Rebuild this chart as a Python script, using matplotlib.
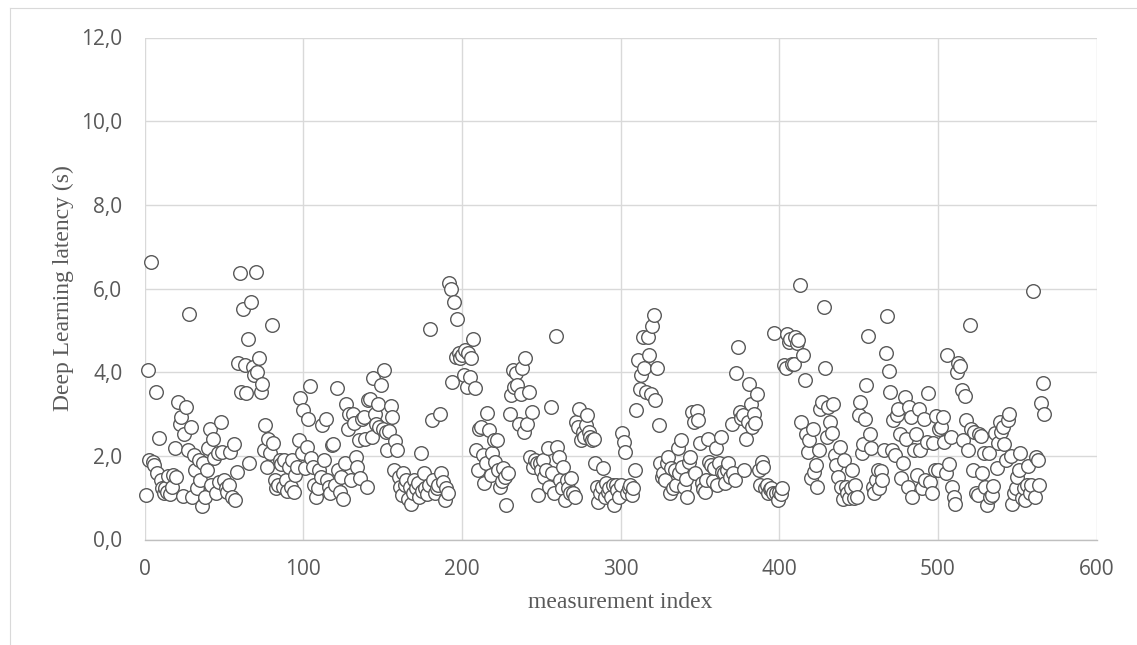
import matplotlib
matplotlib.use('Agg')
import matplotlib.pyplot as plt
from matplotlib.ticker import FuncFormatter
from matplotlib.lines import Line2D
import numpy as np

latency = [
    1.06, 4.05, 1.90, 6.64, 1.86, 1.78, 3.53, 1.60, 2.43, 1.43,
    1.22, 1.10, 1.22, 1.14, 1.51, 1.08, 1.26, 1.55, 2.18, 1.50,
    3.29, 2.77, 2.93, 1.05, 2.53, 3.17, 2.14, 5.40, 2.68, 1.02,
    2.02, 1.66, 1.22, 1.90, 1.42, 0.80, 1.83, 1.02, 1.66, 2.18,
    2.65, 1.30, 2.41, 1.94, 1.10, 2.06, 1.38, 2.81, 2.10, 1.42,
    1.22, 1.14, 1.30, 2.08, 1.02, 2.29, 0.94, 1.62, 4.21, 6.36,
    3.53, 5.52, 4.17, 3.51, 4.80, 1.83, 5.68, 4.13, 3.93, 6.40,
    4.00, 4.33, 3.53, 3.71, 2.14, 2.73, 1.74, 2.41, 2.06, 5.12,
    2.31, 1.42, 1.22, 1.30, 1.90, 1.80, 1.26, 1.90, 1.42, 1.15,
    1.74, 1.26, 1.90, 1.14, 1.55, 1.74, 2.37, 3.38, 2.06, 3.09,
    1.70, 2.22, 2.88, 3.67, 1.94, 1.74, 1.30, 1.02, 1.22, 1.66,
    1.50, 2.73, 1.90, 2.88, 1.42, 1.26, 1.10, 2.25, 2.29, 1.30,
    3.63, 1.66, 1.14, 1.50, 0.98, 1.82, 3.25, 2.65, 3.01, 1.42,
    3.01, 2.79, 1.98, 1.74, 2.37, 1.46, 2.89, 2.93, 2.41, 1.26,
    3.33, 3.35, 2.45, 3.85, 3.01, 2.77, 3.25, 2.69, 3.69, 2.65,
    4.05, 2.57, 2.14, 2.60, 3.20, 2.93, 1.67, 2.35, 2.15, 1.50,
    1.26, 1.06, 1.58, 1.30, 1.42, 0.98, 1.25, 0.86, 1.10, 1.42,
    1.22, 1.35, 1.02, 2.07, 1.15, 1.58, 1.22, 1.08, 1.30, 5.02,
    2.85, 1.42, 1.10, 1.22, 1.30, 3.00, 1.58, 1.38, 0.94, 1.22,
    1.10, 6.14, 5.98, 3.77, 5.68, 4.37, 5.27, 4.45, 4.33, 4.41,
    3.93, 4.52, 3.65, 4.45, 3.89, 4.33, 4.80, 3.61, 2.15, 1.66,
    2.65, 2.69, 2.02, 1.34, 1.82, 3.03, 2.61, 1.54, 2.06, 2.37,
    1.86, 2.37, 1.66, 1.26, 1.40, 1.70, 1.50, 0.82, 1.60, 3.01,
    3.45, 4.06, 3.65, 3.97, 3.69, 2.77, 3.49, 4.09, 2.57, 4.35,
    2.77, 3.53, 1.98, 3.05, 1.74, 1.90, 1.82, 1.06, 1.82, 1.66,
    1.90, 1.50, 1.66, 2.18, 1.26, 3.17, 1.58, 1.10, 4.87, 2.21,
    1.98, 1.42, 1.22, 1.74, 0.94, 1.42, 1.22, 1.10, 1.46, 1.10,
    1.02, 2.81, 2.69, 3.11, 2.39, 2.57, 2.45, 2.73, 2.97, 2.57,
    2.45, 2.37, 2.41, 1.82, 1.26, 0.90, 1.10, 1.26, 1.70, 1.02,
    1.34, 1.14, 1.22, 1.02, 1.30, 0.82, 1.30, 1.18, 1.02, 1.30,
    2.55, 2.33, 2.08, 1.10, 1.22, 1.30, 1.06, 1.22, 1.67, 3.09,
    4.30, 3.59, 3.93, 4.85, 4.11, 3.53, 4.83, 4.41, 3.49, 5.10,
    5.36, 3.33, 4.10, 2.73, 1.82, 1.50, 1.58, 1.42, 1.82, 1.98,
    1.10, 1.70, 1.22, 1.66, 1.30, 2.18, 1.58, 2.37, 1.74, 1.26,
    1.45, 1.02, 1.86, 1.98, 3.05, 2.81, 1.60, 3.08, 2.85, 2.31,
    1.34, 1.20, 1.14, 1.42, 2.41, 1.86, 1.78, 1.40, 1.70, 2.18,
    1.30, 1.82, 2.45, 1.62, 1.58, 1.34, 1.66, 1.82, 1.50, 2.75,
    1.60, 1.42, 3.97, 4.61, 3.05, 2.90, 2.97, 1.66, 2.41, 2.81,
    3.71, 3.25, 2.70, 3.01, 2.79, 3.47, 1.66, 1.30, 1.86, 1.74,
    1.22, 1.30, 1.10, 1.20, 1.22, 1.10, 4.94, 1.10, 0.95, 1.14,
    1.08, 1.22, 4.17, 4.09, 4.92, 4.72, 4.80, 4.19, 4.20, 4.84,
    4.70, 4.76, 6.08, 2.81, 4.41, 3.82, 2.53, 2.10, 2.37, 1.46,
    2.63, 1.62, 1.78, 1.26, 2.14, 3.13, 3.29, 5.56, 4.09, 2.44,
    3.17, 2.81, 2.55, 3.24, 2.02, 1.78, 1.50, 2.22, 1.26, 0.98,
    1.91, 1.26, 1.10, 1.00, 1.22, 1.67, 1.00, 1.30, 1.02, 2.97,
    3.29, 2.06, 2.29, 2.89, 3.69, 4.87, 2.53, 2.18, 1.26, 1.10,
    1.42, 1.66, 1.22, 1.64, 1.42, 2.15, 4.45, 5.34, 4.02, 3.53,
    2.15, 2.85, 2.02, 2.97, 3.13, 2.53, 1.46, 1.82, 3.41, 2.40,
    1.26, 3.17, 2.93, 1.02, 2.14, 2.52, 1.54, 3.13, 2.15, 1.22,
    2.87, 1.42, 2.33, 3.51, 1.38, 1.10, 2.31, 1.66, 2.95, 1.67,
    2.65, 2.69, 2.93, 2.33, 1.58, 4.41, 1.80, 2.44, 1.26, 1.02,
    0.84, 4.01, 4.22, 4.14, 3.57, 2.37, 3.43, 2.85, 2.15, 5.12,
    2.65, 1.66, 2.57, 1.10, 1.06, 2.53, 2.47, 1.58, 2.06, 1.26,
    0.82, 2.06, 1.02, 1.06, 1.28, 2.55, 1.70, 2.31, 2.81, 2.57,
    2.69, 2.29, 1.90, 2.85, 3.00, 2.00, 0.86, 1.10, 1.22, 1.50,
    1.67, 2.06, 1.00, 1.22, 0.94, 1.30, 1.75, 1.10, 1.30, 5.94,
    1.02, 1.98, 1.90, 1.30, 3.27, 3.73, 3.01,
]
index = np.arange(1, len(latency) + 1)

x_ticks = [0, 100, 200, 300, 400, 500, 600]
y_ticks = [0, 2, 4, 6, 8, 10, 12]

W, H = 1137, 645
fig = plt.figure(figsize=(W / 100, H / 100), dpi=100)
fig.patch.set_facecolor('white')
left, right, top, bottom = 144.7, 1096.5, 37.5, 539.5
ax = fig.add_axes([left / W, 1 - bottom / H, (right - left) / W, (bottom - top) / H])

# outer chart frame (top and left edges are visible in the reference)
frame_kw = dict(transform=fig.transFigure, color='#d9d9d9', linewidth=0.8)
fig.lines.append(Line2D([10 / W, 1.0], [1 - 7.5 / H, 1 - 7.5 / H], **frame_kw))
fig.lines.append(Line2D([10 / W, 10 / W], [0.0, 1 - 7.5 / H], **frame_kw))

ax.scatter(index, latency, s=96, facecolors='white', edgecolors='#595959',
           linewidths=1.0, zorder=3, clip_on=False)

ax.set_xlim(0, 600)
ax.set_ylim(0, 12)
ax.set_xticks(x_ticks)
ax.set_yticks(y_ticks)
ax.yaxis.set_major_formatter(FuncFormatter(lambda v, p: f"{v:.1f}".replace('.', ',')))
ax.grid(True, color='#d9d9d9', linewidth=1.0, zorder=0)
ax.set_axisbelow(True)
for side in ['top', 'right', 'left']:
    ax.spines[side].set_visible(False)
ax.spines['bottom'].set_color('#bfbfbf')
ax.spines['bottom'].set_linewidth(1.0)

ax.tick_params(length=0, labelcolor='#595959', labelsize=15)
ax.tick_params(axis='y', pad=16)
ax.tick_params(axis='x', pad=14)
for lbl in ax.get_xticklabels() + ax.get_yticklabels():
    lbl.set_fontfamily('Open Sans')

ax.set_xlabel('measurement index', fontfamily='Liberation Serif', fontsize=17,
              color='#595959', labelpad=9)
ax.set_ylabel('Deep Learning latency (s)', fontfamily='Liberation Serif', fontsize=17,
              color='#595959', labelpad=5)

fig.savefig('out.png', dpi=100, facecolor='white')
